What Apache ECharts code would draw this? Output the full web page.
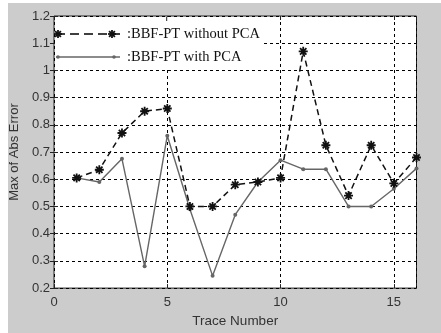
<!DOCTYPE html>
<html>
<head>
<meta charset="utf-8">
<script src="https://cdn.jsdelivr.net/npm/echarts@6/dist/echarts.min.js"></script>
<style>
html,body{margin:0;padding:0;background:#fff;}
#c{width:441px;height:333px;}
</style>
</head>
<body>
<div id="c"></div>
<script>
var traces = [1,2,3,4,5,6,7,8,9,10,11,12,13,14,15,16];
var withoutPCA = [0.605,0.635,0.77,0.85,0.86,0.50,0.50,0.58,0.59,0.605,1.07,0.725,0.54,0.725,0.585,0.68];
var withPCA = [0.605,0.59,0.675,0.28,0.76,0.49,0.245,0.47,0.59,0.67,0.637,0.637,0.50,0.50,0.565,0.64];
var legendNames = [':BBF-PT without PCA', ':BBF-PT with PCA'];
var xTicks = [0,5,10,15];

var star = 'path://M-1,-5 L1,-5 L1,5 L-1,5 Z M-5,-1 L5,-1 L5,1 L-5,1 Z M2.83,-4.24 L4.24,-2.83 L-2.83,4.24 L-4.24,2.83 Z M-4.24,-2.83 L-2.83,-4.24 L4.24,2.83 L2.83,4.24 Z';

function pairs(xs, ys){ return xs.map(function(x,i){return [x, ys[i]];}); }
function starGraphic(cx, cy){
  var r = 4, d = 2.9, arr = [];
  var segs = [[0,-r,0,r],[-r,0,r,0],[-d,-d,d,d],[-d,d,d,-d]];
  segs.forEach(function(s){
    arr.push({type:'line', z:102, shape:{x1:cx+s[0],y1:cy+s[1],x2:cx+s[2],y2:cy+s[3]}, style:{stroke:'#111', lineWidth:1.8}});
  });
  return arr;
}

var GL=54, GT=16, GR=416.5, GB=295;

var chart = echarts.init(document.getElementById('c'), null, {renderer:'canvas'});
var labelStyle = {color:'#333', fontFamily:'Liberation Sans, Arial, sans-serif', fontSize:13};
var splitStyle = {show:true, lineStyle:{color:'#000', type:[3,3], width:1}};
var legendFont = '14.5px "Liberation Serif", "Times New Roman", serif';
var legendElems = [
  {type:'rect', z:100, shape:{x:GL+1,y:GT+1,width:209,height:51}, style:{fill:'#fff'}},
  {type:'line', z:101, shape:{x1:56,y1:34,x2:120,y2:34}, style:{stroke:'#000', lineWidth:1.4, lineDash:[9,5]}}
].concat(starGraphic(58,34), starGraphic(112,34), [
  {type:'text', z:102, x:127, y:34, style:{text:legendNames[0], fill:'#111', font:legendFont, verticalAlign:'middle'}},
  {type:'line', z:101, shape:{x1:56,y1:57,x2:120,y2:57}, style:{stroke:'#666', lineWidth:1.4}},
  {type:'circle', z:102, shape:{cx:58,cy:57,r:1.8}, style:{fill:'#666'}},
  {type:'circle', z:102, shape:{cx:114,cy:57,r:1.8}, style:{fill:'#666'}},
  {type:'text', z:102, x:127, y:57, style:{text:legendNames[1], fill:'#111', font:legendFont, verticalAlign:'middle'}},
  {type:'line', z:102, shape:{x1:166.7,y1:GT+1,x2:166.7,y2:GT+5}, style:{stroke:'#222', lineWidth:1}}
]);

chart.setOption({
  animation:false,
  graphic:[
    {type:'rect', z:-10, silent:true, shape:{x:8,y:3,width:433,height:330}, style:{fill:'#cccccc'}}
  ].concat(legendElems),
  grid:{left:GL, top:GT, width:GR-GL, height:GB-GT, show:true, backgroundColor:'#fff', borderColor:'#222', borderWidth:1},
  xAxis:[{
    type:'value', min:0, max:16, interval:5,
    name:'Trace Number', nameLocation:'middle', nameGap:22,
    nameTextStyle:{color:'#333', fontFamily:'Liberation Sans, Arial, sans-serif', fontSize:13.5},
    axisLine:{show:false},
    axisTick:{show:true, inside:true, length:4, lineStyle:{color:'#222'}},
    axisLabel:Object.assign({margin:8, showMaxLabel:false, formatter:function(v){return xTicks.indexOf(v)>=0? String(v):'';}}, labelStyle),
    splitLine:splitStyle
  },{
    type:'value', min:0, max:16, interval:5, position:'top',
    axisLine:{show:false}, axisLabel:{show:false}, splitLine:{show:false},
    axisTick:{show:true, inside:true, length:4, lineStyle:{color:'#222'}}
  }],
  yAxis:[{
    type:'value', min:0.2, max:1.2, interval:0.1,
    name:'Max of Abs Error', nameLocation:'middle', nameGap:27,
    nameTextStyle:{color:'#333', fontFamily:'Liberation Sans, Arial, sans-serif', fontSize:13},
    axisLine:{show:false},
    axisTick:{show:true, inside:true, length:4, lineStyle:{color:'#222'}},
    axisLabel:Object.assign({margin:4, formatter:function(v){var r=Math.round(v*10)/10; return String(r);}}, labelStyle),
    splitLine:splitStyle
  },{
    type:'value', min:0.2, max:1.2, interval:0.1, position:'right',
    axisLine:{show:false}, axisLabel:{show:false}, splitLine:{show:false},
    axisTick:{show:true, inside:true, length:4, lineStyle:{color:'#222'}}
  }],
  series:[{
    type:'line', name:legendNames[0], data:pairs(traces, withoutPCA),
    symbol:star, symbolSize:9, showAllSymbol:true,
    lineStyle:{color:'#111', width:1.5, type:[6,4]},
    itemStyle:{color:'#111'}, z:3
  },{
    type:'line', name:legendNames[1], data:pairs(traces, withPCA),
    symbol:'circle', symbolSize:4, showAllSymbol:true,
    lineStyle:{color:'#666', width:1.4},
    itemStyle:{color:'#666'}, z:2
  }]
});
</script>
</body>
</html>
